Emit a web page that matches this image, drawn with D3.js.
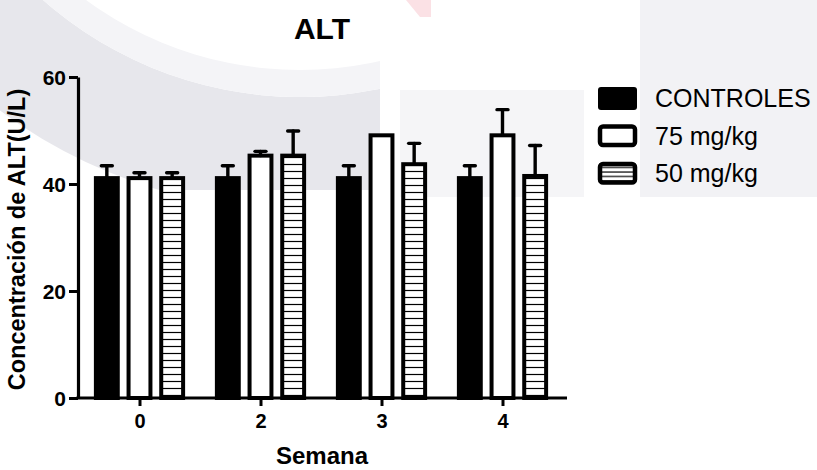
<!DOCTYPE html>
<html>
<head>
<meta charset="utf-8">
<script src="https://cdn.jsdelivr.net/npm/d3@7/dist/d3.min.js"></script>
<style>
  html, body { margin: 0; padding: 0; background: #ffffff; }
  svg { display: block; }
  text { font-family: "Liberation Sans", Arial, Helvetica, sans-serif; fill: #000; }
</style>
</head>
<body>
<svg id="chart" width="817" height="470"></svg>
<script>
// ALT concentration per week, three treatment groups (mean and SEM, U/L)
const weeks = ["0", "2", "3", "4"];
const seriesNames = ["CONTROLES", "75 mg/kg", "50 mg/kg"];
const controlMean = [41.1, 41.1, 41.1, 41.1];
const controlSem  = [2.3, 2.3, 2.3, 2.3];
const dose75Mean  = [41.1, 45.3, 49.1, 49.1];
const dose75Sem   = [1.0, 0.8, 0.0, 4.8];
const dose50Mean  = [41.1, 45.3, 43.7, 41.5];
const dose50Sem   = [1.0, 4.6, 3.9, 5.7];
const yTicks = [0, 20, 40, 60];

const means = [controlMean, dose75Mean, dose50Mean];
const sems = [controlSem, dose75Sem, dose50Sem];
const rows = [];
weeks.forEach((w, i) => {
  seriesNames.forEach((s, j) => {
    rows.push({ week: w, series: s, idx: j, mean: means[j][i], sem: sems[j][i] });
  });
});

const svg = d3.select("#chart");
const defs = svg.append("defs");

// faint background emblem
const bg = svg.append("g");
defs.append("clipPath").attr("id", "embClip")
  .append("rect").attr("x", 0).attr("y", 0).attr("width", 380).attr("height", 190);
const ring = d3.arc();
const emb = bg.append("g").attr("clip-path", "url(#embClip)");
emb.append("path")
  .attr("transform", "translate(300,-292)")
  .attr("d", ring({ innerRadius: 389, outerRadius: 502, startAngle: 0, endAngle: 2 * Math.PI }))
  .attr("fill", "#e7e7ec");
emb.append("path")
  .attr("transform", "translate(300,-292)")
  .attr("d", ring({ innerRadius: 362, outerRadius: 389, startAngle: 0, endAngle: 2 * Math.PI }))
  .attr("fill", "#f4f4f7");
bg.append("rect").attr("x", 640).attr("y", 0).attr("width", 177).attr("height", 197).attr("fill", "#f2f2f5");
bg.append("rect").attr("x", 400).attr("y", 90).attr("width", 184).attr("height", 107).attr("fill", "#f5f5f7");
bg.append("path").attr("d", "M406,0 L431,0 L431,17 L420,17 Z").attr("fill", "#fbe1e5");

// hatch fills
const hatch = defs.append("pattern").attr("id", "hatch")
  .attr("patternUnits", "userSpaceOnUse").attr("width", 10).attr("height", 7);
hatch.append("rect").attr("width", 10).attr("height", 7).attr("fill", "#fff");
hatch.append("line").attr("x1", 0).attr("x2", 10).attr("y1", 3.5).attr("y2", 3.5)
  .attr("stroke", "#000").attr("stroke-width", 1.2);
const hatchSmall = defs.append("pattern").attr("id", "hatchSmall")
  .attr("patternUnits", "userSpaceOnUse").attr("width", 10).attr("height", 4.5);
hatchSmall.append("rect").attr("width", 10).attr("height", 4.5).attr("fill", "#fff");
hatchSmall.append("line").attr("x1", 0).attr("x2", 10).attr("y1", 1).attr("y2", 1)
  .attr("stroke", "#000").attr("stroke-width", 1.2);

const fills = ["#000", "#fff", "url(#hatch)"];
const legendFills = ["#000", "#fff", "url(#hatchSmall)"];

// scales
const plotLeft = 78, plotRight = 567, plotTop = 77, plotBottom = 398;
const y = d3.scaleLinear().domain([0, 60]).range([plotBottom, plotTop]);
const x = d3.scalePoint().domain(weeks).range([139.5, 502.5]);
const xs = d3.scaleBand().domain(seriesNames).range([-49, 49]).paddingInner(0.33).paddingOuter(0.165);

// bars
const bars = svg.append("g");
bars.selectAll("rect").data(rows).join("rect")
  .attr("x", d => x(d.week) + xs(d.series))
  .attr("width", xs.bandwidth())
  .attr("y", d => y(d.mean))
  .attr("height", d => y(0) - y(d.mean))
  .attr("fill", d => fills[d.idx])
  .attr("stroke", "#000")
  .attr("stroke-width", 4);

// error bars (upper half only)
const err = svg.append("g").attr("stroke", "#000").attr("stroke-width", 3.4).attr("stroke-linecap", "round");
const cx = d => x(d.week) + xs(d.series) + xs.bandwidth() / 2;
err.selectAll("line.stem").data(rows.filter(d => d.sem > 0)).join("line").attr("class", "stem")
  .attr("x1", cx).attr("x2", cx)
  .attr("y1", d => y(d.mean)).attr("y2", d => y(d.mean + d.sem));
err.selectAll("line.cap").data(rows.filter(d => d.sem > 0)).join("line").attr("class", "cap")
  .attr("x1", d => cx(d) - 5.5).attr("x2", d => cx(d) + 5.5)
  .attr("y1", d => y(d.mean + d.sem)).attr("y2", d => y(d.mean + d.sem));

// y axis
const yAxis = svg.append("g").attr("transform", `translate(${plotLeft},0)`)
  .call(d3.axisLeft(y).tickValues(yTicks).tickSize(9).tickSizeOuter(0).tickPadding(3));
yAxis.select(".domain").attr("stroke-width", 3.2);
yAxis.selectAll(".tick line").attr("stroke-width", 3);
yAxis.selectAll(".tick text")
  .attr("font-size", 21).attr("font-weight", "bold").attr("dy", "0.36em")
  .style("font-family", "'Liberation Sans', Arial, sans-serif");

// x axis
const xAxis = svg.append("g").attr("transform", `translate(0,${plotBottom})`)
  .call(d3.axisBottom(x).tickSize(8).tickSizeOuter(0).tickPadding(8));
xAxis.select(".domain").remove();
xAxis.append("line").attr("x1", plotLeft - 1.6).attr("x2", plotRight)
  .attr("stroke", "#000").attr("stroke-width", 3.2);
xAxis.selectAll(".tick line").attr("stroke-width", 3);
xAxis.selectAll(".tick text")
  .attr("font-size", 20).attr("font-weight", "bold")
  .style("font-family", "'Liberation Sans', Arial, sans-serif");

// titles
svg.append("text").attr("x", 322).attr("y", 39).attr("text-anchor", "middle")
  .attr("font-size", 30).attr("font-weight", "bold").text("ALT");
svg.append("text").attr("x", 322).attr("y", 464).attr("text-anchor", "middle")
  .attr("font-size", 24).attr("font-weight", "bold").text("Semana");
svg.append("text")
  .attr("transform", `translate(25,${(plotTop + plotBottom) / 2 + 2}) rotate(-90)`)
  .attr("text-anchor", "middle")
  .attr("font-size", 23.5).attr("font-weight", "bold").text("Concentración de ALT(U/L)");

// legend
const legend = svg.append("g").attr("transform", "translate(598,87)");
const item = legend.selectAll("g").data(seriesNames).join("g")
  .attr("transform", (d, i) => `translate(0,${i * 37.5})`);
item.append("rect")
  .attr("x", (d, i) => i === 0 ? 0 : 2).attr("y", (d, i) => i === 0 ? 0 : 2)
  .attr("width", (d, i) => i === 0 ? 39 : 35).attr("height", (d, i) => i === 0 ? 23 : 18.5)
  .attr("rx", 3)
  .attr("fill", (d, i) => legendFills[i])
  .attr("stroke", "#000")
  .attr("stroke-width", (d, i) => i === 0 ? 0 : 4.5);
item.append("text").attr("x", 57).attr("y", 20).attr("font-size", 25).text(d => d);
</script>
</body>
</html>
